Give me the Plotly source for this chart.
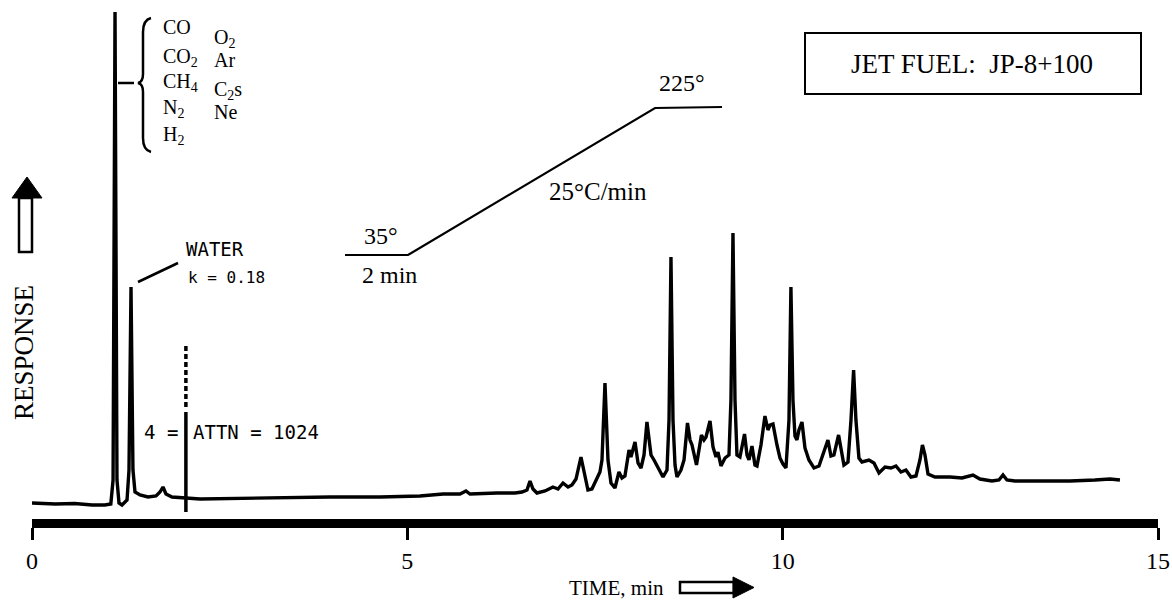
import plotly.graph_objects as go

# ---------------- data ----------------
time_min = [0.00, 0.31, 0.57, 0.80, 0.97, 1.05, 1.08, 1.106, 1.132, 1.159, 1.199, 1.266, 1.292, 1.319,
            1.345, 1.372, 1.439, 1.545, 1.652, 1.705, 1.745, 1.785, 1.865, 1.971, 2.051, 2.238, 3.037,
            3.97, 4.636, 5.168, 5.475, 5.701, 5.781, 5.835, 6.194, 6.434, 6.527, 6.594, 6.634, 6.674,
            6.727, 6.834, 6.94, 7.007, 7.074, 7.141, 7.193, 7.247, 7.313, 7.366, 7.406, 7.459, 7.526,
            7.566, 7.593, 7.633, 7.673, 7.713, 7.766, 7.819, 7.859, 7.899, 7.953, 7.979, 8.033, 8.073,
            8.113, 8.153, 8.192, 8.246, 8.286, 8.34, 8.406, 8.459, 8.486, 8.512, 8.539, 8.566, 8.592,
            8.645, 8.686, 8.732, 8.766, 8.792, 8.852, 8.918, 8.952, 8.979, 9.032, 9.072, 9.112, 9.138,
            9.178, 9.232, 9.285, 9.311, 9.338, 9.365, 9.391, 9.431, 9.492, 9.525, 9.551, 9.591, 9.631,
            9.658, 9.711, 9.764, 9.804, 9.831, 9.871, 9.924, 9.964, 10.004, 10.044, 10.084, 10.11,
            10.137, 10.164, 10.19, 10.217, 10.257, 10.297, 10.35, 10.417, 10.484, 10.55, 10.603, 10.643,
            10.683, 10.745, 10.776, 10.816, 10.87, 10.91, 10.945, 10.976, 11.016, 11.056, 11.149, 11.216,
            11.283, 11.363, 11.443, 11.509, 11.576, 11.642, 11.709, 11.776, 11.829, 11.862, 11.896,
            11.936, 12.029, 12.229, 12.389, 12.469, 12.535, 12.628, 12.788, 12.881, 12.935, 12.988,
            13.094, 13.427, 13.827, 14.16, 14.36, 14.493]
response = [0, -1, -0.5, -2, -2, -1, 23, 491, 23, 0, -2, 3, 33, 216,
            33, 11, 8, 6, 7, 11, 16, 9, 6, 5, 5, 4, 5,
            6, 6, 7, 9, 9, 12, 9, 10, 10, 11, 13, 22, 14,
            10, 12, 16, 14, 20, 16, 18, 24, 46, 27, 13, 14, 25,
            31, 43, 120, 43, 20, 15, 31, 25, 27, 53, 46, 61, 40,
            35, 48, 81, 48, 43, 36, 26, 33, 83, 246, 83, 38, 26,
            33, 43, 80, 63, 58, 38, 68, 63, 66, 82, 56, 46, 51,
            37, 45, 48, 103, 270, 103, 48, 46, 69, 48, 43, 57, 38,
            37, 58, 87, 73, 78, 79, 58, 45, 39, 35, 83, 216,
            103, 67, 63, 73, 81, 55, 43, 35, 37, 53, 63, 47,
            48, 68, 53, 38, 41, 83, 133, 83, 45, 41, 43, 40,
            30, 36, 35, 37, 31, 33, 26, 27, 43, 58, 48,
            29, 26, 26, 25, 27, 28, 24, 22, 23, 28, 23,
            22, 22, 22, 23, 24, 23]

attn_time = [2.05, 2.05]
attn_solid = [-9, 91]
attn_dashed = [96, 160]

x_tickvals = [0, 5, 10, 15]
x_ticktext = ["0", "5", "10", "15"]
y_range = [-16, 503]

# ---------------- layout helpers (pixel -> paper) ----------------
W, H = 1172, 608
ML, MR, MT, MB = 32, 14, 0, 89
PW, PH = W - ML - MR, H - MT - MB


def px(x):
    return (x - ML) / PW


def py(y):
    return (H - MB - y) / PH


def pt(x, y):
    return f"{px(x):.5f},{py(y):.5f}"


fig = go.Figure()

fig.add_trace(go.Scatter(x=time_min, y=response, mode="lines",
                         line=dict(color="black", width=3.4), hoverinfo="skip", showlegend=False))
fig.add_trace(go.Scatter(x=attn_time, y=attn_solid, mode="lines",
                         line=dict(color="black", width=3.5), hoverinfo="skip", showlegend=False))
fig.add_trace(go.Scatter(x=attn_time, y=attn_dashed, mode="lines",
                         line=dict(color="black", width=3.5, dash="5px,3px"), hoverinfo="skip",
                         showlegend=False))

shapes = []
line_black = dict(color="black", width=2.2)

# brace for the permanent-gas group
brace = (f"M {pt(151,18)} Q {pt(143,20)} {pt(143,32)} L {pt(143,74)} "
         f"Q {pt(143,82)} {pt(138,83)} Q {pt(143,84)} {pt(143,92)} "
         f"L {pt(143,138)} Q {pt(143,150)} {pt(151,152)}")
shapes.append(dict(type="path", path=brace, xref="paper", yref="paper", line=dict(color="black", width=2.5)))
shapes.append(dict(type="line", xref="paper", yref="paper", x0=px(118), y0=py(83), x1=px(134), y1=py(83),
                   line=dict(color="black", width=2.5)))
# water leader
shapes.append(dict(type="line", xref="paper", yref="paper", x0=px(138), y0=py(282), x1=px(178), y1=py(263),
                   line=dict(color="black", width=2.5)))
# temperature program
temp = f"M {pt(345,255)} L {pt(408,255)} L {pt(655,108)} L {pt(722,107)}"
shapes.append(dict(type="path", path=temp, xref="paper", yref="paper", line=line_black))
# JET FUEL box
shapes.append(dict(type="rect", xref="paper", yref="paper", x0=px(805), x1=px(1141), y0=py(94), y1=py(33),
                   line=dict(color="black", width=2)))
# up arrow (RESPONSE)
shapes.append(dict(type="rect", xref="paper", yref="paper", x0=px(19), x1=px(32), y0=py(252), y1=py(198),
                   line=dict(color="black", width=2.5), fillcolor="white"))
shapes.append(dict(type="path", xref="paper", yref="paper",
                   path=f"M {pt(12,198)} L {pt(42,198)} L {pt(27,177)} Z",
                   line=dict(color="black", width=1), fillcolor="black"))
# right arrow (TIME)
shapes.append(dict(type="rect", xref="paper", yref="paper", x0=px(680), x1=px(734), y0=py(593), y1=py(582),
                   line=dict(color="black", width=2.5), fillcolor="white"))
shapes.append(dict(type="path", xref="paper", yref="paper",
                   path=f"M {pt(733,577)} L {pt(733,598)} L {pt(754,587.5)} Z",
                   line=dict(color="black", width=1), fillcolor="black"))

serif = "Liberation Serif, Times New Roman, serif"
mono = "DejaVu Sans Mono, Liberation Mono, monospace"

annotations = []


def txt(text, x, y, size, family=serif, xanchor="center", angle=0):
    annotations.append(dict(text=text, x=px(x), y=py(y), xref="paper", yref="paper",
                            xanchor=xanchor, yanchor="middle", showarrow=False, textangle=angle,
                            font=dict(family=family, size=size, color="black")))


gas_col1 = ["CO", "CO<sub>2</sub>", "CH<sub>4</sub>", "N<sub>2</sub>", "H<sub>2</sub>"]
gas_col1_y = [27, 57, 82, 108, 135]
gas_col2 = ["O<sub>2</sub>", "Ar", "C<sub>2</sub>s", "Ne"]
gas_col2_y = [38, 60, 90, 112]
for g, yy in zip(gas_col1, gas_col1_y):
    txt(g, 161, yy, 20, xanchor="left")
for g, yy in zip(gas_col2, gas_col2_y):
    txt(g, 212, yy, 20, xanchor="left")

txt("WATER", 184, 249, 19, family=mono, xanchor="left")
txt("k = 0.18", 186, 277, 16, family=mono, xanchor="left")
txt("4 =", 142, 432, 19, family=mono, xanchor="left")
txt("ATTN = 1024", 191, 432, 19, family=mono, xanchor="left")

txt("35°", 381, 236, 24)
txt("2 min", 390, 275, 24)
txt("225°", 682, 83, 24)
txt("25°C/min", 598, 191, 25)

txt("JET FUEL:\u00a0\u00a0JP-8+100", 972, 64, 27)
txt("RESPONSE", 24, 353, 27, angle=-90)
txt("TIME, min", 616, 588, 21)

fig.update_layout(
    width=W, height=H,
    margin=dict(l=ML, r=MR, t=MT, b=MB, pad=0),
    paper_bgcolor="white", plot_bgcolor="white",
    showlegend=False, hovermode=False,
    shapes=shapes, annotations=annotations,
    xaxis=dict(range=[0, 15], tickvals=x_tickvals, ticktext=x_ticktext,
               showline=True, linewidth=9, linecolor="black",
               ticks="outside", ticklen=12, tickwidth=2.5, tickcolor="black",
               tickfont=dict(family=serif, size=24, color="black"),
               showgrid=False, zeroline=False, fixedrange=True),
    yaxis=dict(range=y_range, visible=False, showgrid=False, zeroline=False, fixedrange=True),
)

fig.write_html("out.html", config={"displayModeBar": False})
